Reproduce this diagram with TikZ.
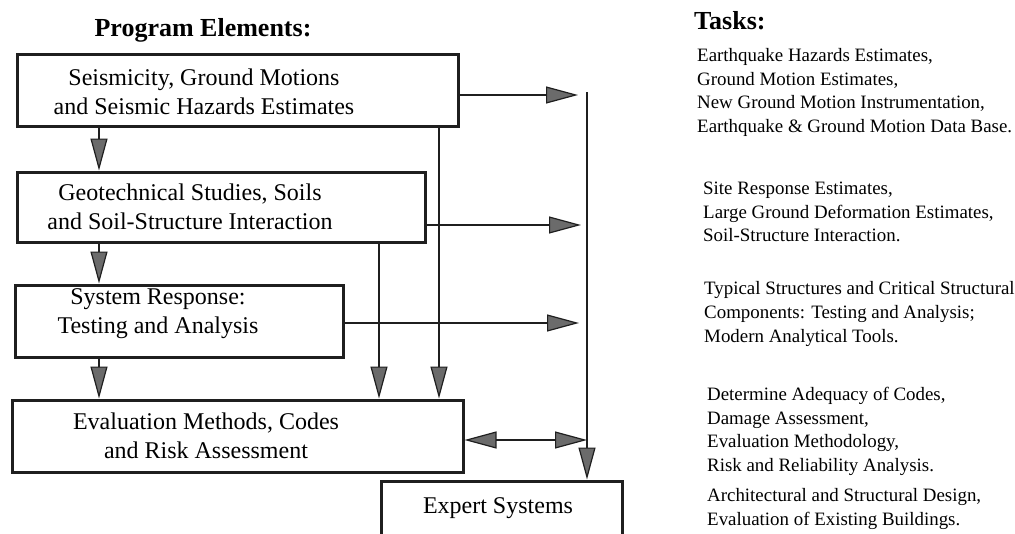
\documentclass[tikz,border=0pt]{standalone}
\usepackage{fontspec}
\setmainfont{Liberation Serif}
\usetikzlibrary{arrows.meta}
\tikzset{
  boxnode/.style={draw=black!88, line width=3pt, rectangle, inner sep=0pt},
  boxtext/.style={inner sep=0pt, align=center, font=\fontsize{24}{29}\selectfont},
  tasktext/.style={inner sep=0pt, align=left, anchor=west, font=\fontsize{18.9}{23.6}\selectfont},
  headtext/.style={inner sep=0pt, font=\fontsize{26}{30}\selectfont\bfseries},
  conn/.style={draw=black!88, line width=2.5pt},
  arr/.style={conn, -{Triangle[length=32pt,width=17pt,line width=1.2pt,fill=black!58,color=black!88]}},
  darr/.style={conn, {Triangle[length=32pt,width=17pt,line width=1.2pt,fill=black!58,color=black!88]}-{Triangle[length=32pt,width=17pt,line width=1.2pt,fill=black!58,color=black!88]}}
}
\begin{document}
\begin{tikzpicture}[x=1pt,y=-1pt]
\clip (0,0) rectangle (1015,533);
\fill[white] (0,0) rectangle (1015,533);

% headings
\node[headtext] (hprog) at (203,30) {Program Elements:};
\node[headtext, anchor=west] (htask) at (694,21) {Tasks:};

% boxes
\node[boxnode, minimum width=441pt, minimum height=72pt] (b1) at (237.5,90) {};
\node[boxnode, minimum width=408pt, minimum height=70pt] (b2) at (221,207) {};
\node[boxnode, minimum width=328pt, minimum height=72pt] (b3) at (179,321) {};
\node[boxnode, minimum width=451pt, minimum height=72pt] (b4) at (237.5,436) {};
\node[boxnode, minimum width=241pt, minimum height=66pt] (ex) at (501.5,514) {};

% box texts
\node[boxtext] (t1) at (204,92) {Seismicity, Ground Motions\\and Seismic Hazards Estimates};
\node[boxtext] (t2) at (190,207) {Geotechnical Studies, Soils\\and Soil-Structure Interaction};
\node[boxtext] (t3) at (158,314) {System Response:\\Testing and Analysis};
\node[boxtext] (t4) at (206,436) {Evaluation Methods, Codes\\and Risk Assessment};
\node[boxtext] (t5) at (498,508) {Expert Systems};

% task texts
\node[tasktext] (k1) at (697,92.5) {Earthquake Hazards Estimates,\\Ground Motion Estimates,\\New Ground Motion Instrumentation,\\Earthquake \& Ground Motion Data Base.};
\node[tasktext] (k2) at (703,212) {Site Response Estimates,\\Large Ground Deformation Estimates,\\Soil-Structure Interaction.};
\node[tasktext] (k3) at (704,314) {Typical Structures and Critical Structural\\Components: Testing and Analysis;\\Modern Analytical Tools.};
\node[tasktext] (k4) at (707,431.5) {Determine Adequacy of Codes,\\Damage Assessment,\\Evaluation Methodology,\\Risk and Reliability Analysis.};
\node[tasktext] (k5) at (707,509) {Architectural and Structural Design,\\Evaluation of Existing Buildings.};

% helper coordinates
\coordinate (cl) at (99,0);
\coordinate (v1) at (439,0);
\coordinate (v2) at (379,0);
\coordinate (mv) at (587,92);

% left chain
\draw[arr] (cl |- b1.south) -- (cl |- b2.north);
\draw[arr] (cl |- b2.south) -- (cl |- b3.north);
\draw[arr] (cl |- b3.south) -- (cl |- b4.north);

% verticals into evaluation box
\draw[arr] (v1 |- b1.south) -- (v1 |- b4.north);
\draw[arr] (v2 |- b2.south) -- (v2 |- b4.north);

% main vertical
\draw[arr] (mv) -- (mv |- ex.north);

% horizontal arrows to main vertical
\draw[arr, shorten >=9pt] ([yshift=-5pt]b1.east) -- ([yshift=-5pt]b1.east -| mv);
\draw[arr, shorten >=6pt] ([yshift=-18pt]b2.east) -- ([yshift=-18pt]b2.east -| mv);
\draw[arr, shorten >=8pt] ([yshift=-2pt]b3.east) -- ([yshift=-2pt]b3.east -| mv);
\draw[darr] ([yshift=-4pt]b4.east) -- ([yshift=-4pt]b4.east -| mv);
\end{tikzpicture}
\end{document}
